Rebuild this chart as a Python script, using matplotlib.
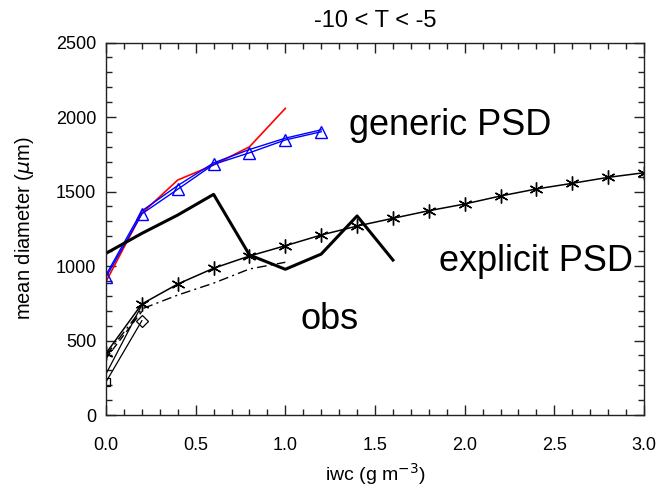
import matplotlib
matplotlib.use("Agg")
import matplotlib.pyplot as plt
from matplotlib.ticker import MultipleLocator

plt.rcParams['font.family'] = ['Liberation Sans', 'DejaVu Sans']

# --- data ---
iwc_generic = [0.0, 0.2, 0.4, 0.6, 0.8, 1.0, 1.2]
generic_a = [925, 1350, 1515, 1682, 1760, 1846, 1901]
generic_b = [940, 1370, 1540, 1692, 1782, 1858, 1914]

iwc_red = [0.0, 0.2, 0.4, 0.6, 0.8, 1.0]
red_line = [895, 1354, 1577, 1678, 1800, 2058]

iwc_obs = [0.0, 0.2, 0.4, 0.6, 0.8, 1.0, 1.2, 1.4, 1.6]
obs_line = [1085, 1219, 1342, 1481, 1074, 978, 1080, 1336, 1040]

iwc_explicit = [0.0, 0.2, 0.4, 0.6, 0.8, 1.0, 1.2, 1.4, 1.6, 1.8,
                2.0, 2.2, 2.4, 2.6, 2.8, 3.0]
explicit_line = [414, 745, 879, 985, 1067, 1136, 1208, 1268, 1320, 1371,
                 1416, 1470, 1517, 1555, 1595, 1626]

iwc_dashdot = [0.0, 0.2, 0.4, 0.6, 0.8, 1.0]
dashdot_line = [400, 712, 805, 885, 980, 1025]

iwc_short = [0.0, 0.2]
dashed_short = [380, 695]
solid_short = [275, 738]
diamond_short = [222, 633]

# --- figure ---
fig = plt.figure(figsize=(6.6, 4.92), dpi=100)
ax = fig.add_axes([0.1606, 0.1565, 0.8152, 0.7571])

ax.plot(iwc_red, red_line, color="red", lw=1.2)
ax.plot(iwc_generic, generic_b, color="blue", lw=1.0)
ax.plot(iwc_generic, generic_a, color="blue", lw=1.0, marker="^",
        ms=9, mfc="none", mec="blue", mew=1.0)

ax.plot(iwc_obs, obs_line, color="black", lw=2.2)

ax.plot(iwc_explicit, explicit_line, color="black", lw=1.1,
        marker=(6, 2, 0), ms=10, mew=1.0)
ax.plot(iwc_dashdot, dashdot_line, color="black", lw=1.0,
        dashes=[7, 3, 1.5, 3])
ax.plot(iwc_short, dashed_short, color="black", lw=1.0, dashes=[5, 3])
ax.plot(iwc_short, solid_short, color="black", lw=0.9)
ax.plot(iwc_short, diamond_short, color="black", lw=0.9)
ax.plot(iwc_short[:1], diamond_short[:1], ls="none", marker="s", ms=6,
        mfc="none", mec="black", mew=0.9)
ax.plot(iwc_short[1:], diamond_short[1:], ls="none", marker="D", ms=6,
        mfc="none", mec="black", mew=0.9)

ax.set_xlim(0, 3.0)
ax.set_ylim(0, 2500)
ax.xaxis.set_major_locator(MultipleLocator(0.5))
ax.xaxis.set_minor_locator(MultipleLocator(0.1))
ax.yaxis.set_major_locator(MultipleLocator(500))
ax.yaxis.set_minor_locator(MultipleLocator(100))
ax.xaxis.set_major_formatter(matplotlib.ticker.FormatStrFormatter("%.1f"))
ax.tick_params(which="both", direction="in", top=True, right=True,
               width=1.0, color="#222222")
ax.tick_params(which="major", length=7, labelsize=13)
ax.tick_params(axis="x", which="major", pad=16)
ax.tick_params(axis="y", which="major", pad=7)
ax.tick_params(which="minor", length=4)
for s in ax.spines.values():
    s.set_linewidth(1.0)
    s.set_color("#222222")

ax.set_xlabel("iwc (g m$^{-3}$)", fontsize=14, labelpad=5)
ax.set_ylabel("mean diameter ($\\mu$m)", fontsize=14.5, labelpad=14)
ax.set_title("-10 < T < -5", fontsize=17, pad=11)

ax.text(1.918, 1946, "generic PSD", fontsize=26, ha="center", va="center")
ax.text(2.398, 1027, "explicit PSD", fontsize=26, ha="center", va="center")
ax.text(1.244, 638, "obs", fontsize=26, ha="center", va="center")

fig.savefig("out.png", dpi=100)
